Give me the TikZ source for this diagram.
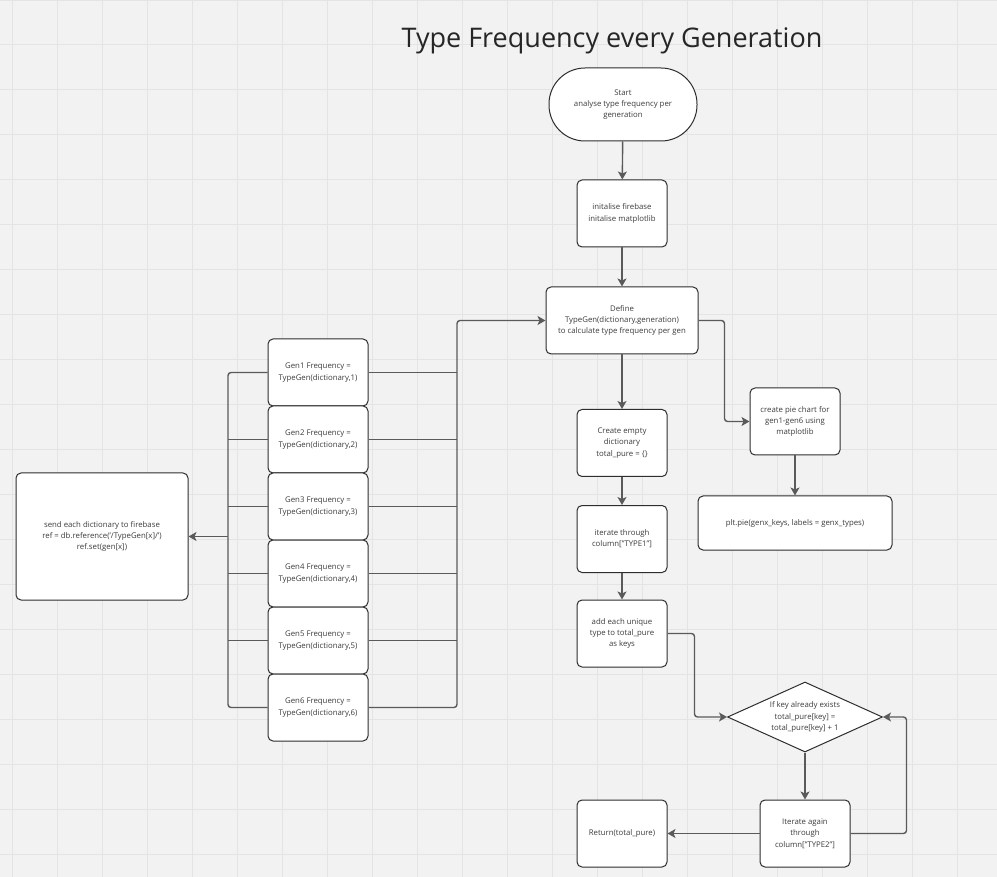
\documentclass[tikz,border=0pt]{standalone}
\usepackage{fontspec}
\setmainfont{Open Sans}
\usetikzlibrary{arrows.meta,shapes.geometric,calc}
\definecolor{bg}{HTML}{F2F2F2}
\definecolor{gridc}{HTML}{E4E4E4}
\definecolor{edgec}{HTML}{2E2E2E}
\definecolor{connc}{HTML}{5A5A5A}
\definecolor{txtc}{HTML}{3C3C3C}
\begin{document}
\begin{tikzpicture}[x=1pt,y=-1pt,
  box/.style={draw=edgec, fill=white, rounded corners=5pt, line width=1pt, align=center, text=txtc,
    font=\fontsize{7.8}{11.3}\selectfont, inner sep=2pt, minimum width=90pt, minimum height=67pt},
  dia/.style={diamond, draw=edgec, fill=white, line width=1pt, align=center, text=txtc,
    font=\fontsize{7.8}{11.3}\selectfont, inner sep=0pt, aspect=2.2, minimum width=155pt, minimum height=70pt},
  conn/.style={draw=connc, line width=1.4pt, rounded corners=3pt},
  arr/.style={conn, -{Stealth[length=8pt,width=9pt,inset=2pt]}}]
\fill[bg] (0,0) rectangle (997,877);
\useasboundingbox (0,0) rectangle (997,877);
\foreach \x in {12.7,57.7,...,997} \draw[gridc, line width=0.8pt] (\x,0) -- (\x,877);
\foreach \y in {0.4,44.7,89.7,...,877} \draw[gridc, line width=0.8pt] (0,\y) -- (997,\y);

\node[font=\fontsize{27}{31}\selectfont, text=black!85] (title) at (612,40.5) {Type Frequency every Generation};

\node[box, minimum width=148pt, minimum height=73pt, rounded corners=36pt] (start) at (623,104.5) {Start\\analyse type frequency per\\generation};
\node[box] (init) at (622,213.5) {initalise firebase\\initalise matplotlib};
\node[box, minimum width=152pt] (define) at (622,320.5) {Define\\TypeGen(dictionary,generation)\\to calculate type frequency per gen};
\node[box] (create) at (622,443) {Create empty\\dictionary\\total\_pure = \{\}};
\node[box] (iter) at (622,539) {iterate through\\column["TYPE1"]};
\node[box] (add) at (622,633.5) {add each unique\\type to total\_pure\\as keys};
\node[dia] (dia) at (805,717) {If key already exists\\total\_pure[key] =\\total\_pure[key] + 1};
\node[box] (again) at (805,833.5) {Iterate again\\through\\column["TYPE2"]};
\node[box] (ret) at (622,833.5) {Return(total\_pure)};
\node[box] (pie) at (795,421.5) {create pie chart for\\gen1-gen6 using\\matplotlib};
\node[box, minimum width=194pt, minimum height=54pt] (plt) at (795,523) {plt.pie(genx\_keys, labels = genx\_types)};
\node[box, minimum width=172pt, minimum height=127pt] (send) at (102,536.5) {send each dictionary to firebase\\ref = db.reference('/TypeGen[x]/')\\ref.set(gen[x])};
\foreach \i/\y in {1/372.5,2/439.5,3/506.5,4/573.5,5/640.5,6/707.5}
  \node[box, minimum width=100pt] (gen\i) at (318,\y) {Gen\i{} Frequency =\\TypeGen(dictionary,\i)};

\coordinate (busR) at (457,320.5);
\coordinate (busL) at (228,536.5);

\draw[arr] (start) -- (init);
\draw[arr] (init) -- (define);
\draw[arr] (define) -- (create);
\draw[arr] (create) -- (iter);
\draw[arr] (iter) -- (add);
\draw[arr] (define.east) -- ++(26,0) |- (pie.west);
\draw[arr] (pie) -- (plt);
\draw[arr] (add.east) -- ++(27,0) |- (dia.west);
\draw[arr] (dia) -- (again);
\draw[arr] (again.east) -- ++(56,0) |- (dia.east);
\draw[arr] (again) -- (ret);

\draw[arr] (gen6.east) -| (busR) -- (define.west);
\foreach \i in {1,...,5} \draw[conn] (gen\i.east) -- (gen\i.east -| busR);
\draw[conn] (gen1.west) -| (busL);
\draw[conn] (gen6.west) -| (busL);
\foreach \i in {2,...,5} \draw[conn] (gen\i.west) -- (gen\i.west -| busL);
\draw[arr] (busL) -- (send.east);
\end{tikzpicture}
\end{document}
